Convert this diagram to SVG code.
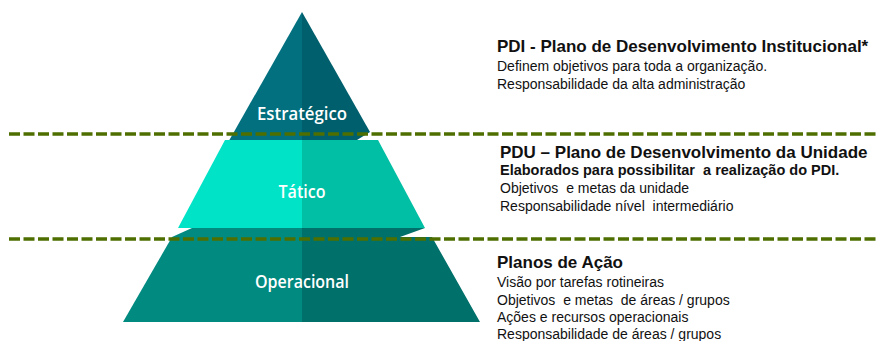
<svg xmlns="http://www.w3.org/2000/svg" width="879" height="341" viewBox="0 0 879 341">
<style>
.lbl{font-family:"Open Sans","Noto Sans",sans-serif;font-size:18px;font-weight:600;fill:#ffffff;text-anchor:middle}
.t{font-family:"Liberation Sans",Arial,sans-serif;font-size:14px;fill:#111111;white-space:pre}
.h{font-family:"Liberation Sans",Arial,sans-serif;font-size:17px;font-weight:bold;fill:#111111}
.hb{font-family:"Liberation Sans",Arial,sans-serif;font-size:14.5px;font-weight:bold;fill:#111111;white-space:pre}
.sep{stroke:#4E6F00;stroke-width:3.3;stroke-dasharray:11 3.5;fill:none}
</style>
<rect width="879" height="341" fill="#ffffff"/>
<g id="estrategico">
<polygon points="302,12 302,140 229.4,140" fill="#02707F"/>
<polygon points="302,12 370,132 357,140 302,140" fill="#005F6C"/>
<text class="lbl" x="302" y="120" textLength="90" lengthAdjust="spacingAndGlyphs">Estratégico</text>
</g>
<g id="tatico">
<polygon points="225,140 302,140 302,228 178,228" fill="#00E3C6"/>
<polygon points="302,140 378,140 425,228 302,228" fill="#00BFA4"/>
<text class="lbl" x="302" y="198" textLength="47" lengthAdjust="spacingAndGlyphs">Tático</text>
</g>
<g id="operacional">
<polygon points="192,228 302,228 302,322 123,322 172,237" fill="#008A80"/>
<polygon points="302,228 425,228 400,237 432,237 480,322 302,322" fill="#00706A"/>
<text class="lbl" x="302" y="288" textLength="94" lengthAdjust="spacingAndGlyphs">Operacional</text>
</g>
<g id="connectors">
<line class="sep" x1="9" y1="134" x2="879" y2="134"/>
<line class="sep" x1="9" y1="239" x2="879" y2="239"/>
</g>
<g id="pdi">
<text class="h" x="497" y="52">PDI - Plano de Desenvolvimento Institucional*</text>
<text class="t" x="497" y="71">Definem objetivos para toda a organização.</text>
<text class="t" x="497" y="89">Responsabilidade da alta administração</text>
</g>
<g id="pdu">
<text class="h" x="500" y="158">PDU – Plano de Desenvolvimento da Unidade</text>
<text class="hb" x="500" y="175" xml:space="preserve">Elaborados para possibilitar  a realização do PDI.</text>
<text class="t" x="500" y="193" xml:space="preserve">Objetivos  e metas da unidade</text>
<text class="t" x="500" y="211" xml:space="preserve">Responsabilidade nível  intermediário</text>
</g>
<g id="planos">
<text class="h" x="497" y="268">Planos de Ação</text>
<text class="t" x="497" y="287">Visão por tarefas rotineiras</text>
<text class="t" x="497" y="305" xml:space="preserve">Objetivos  e metas  de áreas / grupos</text>
<text class="t" x="497" y="322">Ações e recursos operacionais</text>
<text class="t" x="497" y="339">Responsabilidade de áreas / grupos</text>
</g>
</svg>
